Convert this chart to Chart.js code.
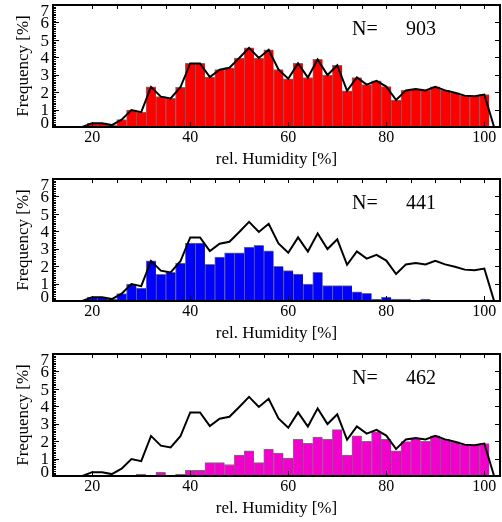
<!DOCTYPE html>
<html><head><meta charset="utf-8">
<script src="https://cdn.jsdelivr.net/npm/chart.js@4/dist/chart.umd.min.js"></script>
<style>
html,body{margin:0;padding:0;background:#fff;}
#wrap{position:relative;width:502px;height:522px;overflow:hidden;background:#fff;}
canvas{position:absolute;left:0;}
</style></head><body>
<div id="wrap">
<canvas id="c1" width="502" height="175" style="top:0px"></canvas>
<canvas id="c2" width="502" height="175" style="top:174px"></canvas>
<canvas id="c3" width="502" height="175" style="top:349px"></canvas>
</div>
<script>
// relative humidity bin centres [%]
const binCenters = [14,16,18,20,22,24,26,28,30,32,34,36,38,40,42,44,46,48,50,52,54,56,58,60,62,64,66,68,70,72,74,76,78,80,82,84,86,88,90,92,94,96,98,100,102];
// all cases (N=903), frequency [%]
const totalFreq = [0,0,0,0.22,0.22,0.11,0.42,0.97,0.85,2.30,1.74,1.64,2.28,3.65,3.65,2.87,3.29,3.40,3.96,4.54,3.96,4.43,3.30,2.77,3.65,2.84,3.88,2.98,3.54,2.08,2.84,2.43,2.65,2.32,1.55,2.10,2.18,2.10,2.30,2.10,1.96,1.80,1.77,1.86,0];
// subset N=441
const group1Freq = [0,0,0,0.22,0.22,0.11,0.42,0.97,0.74,2.30,1.53,1.64,2.17,3.32,3.32,2.10,2.52,2.76,2.76,3.10,3.20,2.88,1.99,1.74,1.55,0.97,1.64,0.88,0.88,0.88,0.53,0.44,0.11,0.22,0.11,0.11,0,0.11,0,0,0,0,0,0,0];
// subset N=462
const group2Freq = [0,0,0,0,0,0,0,0,0.11,0,0.21,0,0.11,0.33,0.33,0.77,0.77,0.66,1.20,1.44,0.77,1.55,1.31,1.03,2.10,1.87,2.24,2.10,2.66,1.20,2.31,1.99,2.54,2.10,1.44,1.97,2.16,1.99,2.30,2.10,1.96,1.80,1.77,1.86,0];
const xTickValues = [20,40,60,80,100];
const yTickValues = [0,1,2,3,4,5,6,7];
const panelCounts = [903,441,462];
const panelColors = ['#FF0000','#0000FF','#F200CC'];

const FONT = '"Liberation Serif", "Times New Roman", serif';
Chart.defaults.font.family = FONT;
Chart.defaults.color = '#000';

const framePlugin = {
  id: 'frame',
  afterDraw(chart, args, opts) {
    const {ctx, chartArea: a} = chart;
    const x = chart.scales.x, y = chart.scales.y;
    ctx.save();
    ctx.strokeStyle = '#000';
    ctx.lineWidth = 1;
    ctx.beginPath();
    for (let k = 0; k <= 70; k++) {
      const py = Math.round(y.getPixelForValue(k / 10)) + 0.5;
      const len = (k % 10 === 0) ? 6 : 3;
      ctx.moveTo(a.left, py); ctx.lineTo(a.left + len, py);
    }
    for (const v of yTickValues) {
      const py = Math.round(y.getPixelForValue(v)) + 0.5;
      ctx.moveTo(a.right, py); ctx.lineTo(a.right - 5, py);
    }
    for (let v = 20; v <= 100; v += 5) {
      const px = Math.round(x.getPixelForValue(v)) + 0.5;
      ctx.moveTo(px, a.top); ctx.lineTo(px, a.top + 4);
    }
    for (const v of xTickValues) {
      const px = Math.round(x.getPixelForValue(v)) + 0.5;
      ctx.moveTo(px, a.bottom); ctx.lineTo(px, a.bottom - 5);
    }
    ctx.stroke();
    ctx.lineWidth = 2;
    ctx.strokeRect(a.left, a.top, a.right - a.left, a.bottom - a.top);
    ctx.fillStyle = '#000';
    ctx.font = '20px ' + FONT;
    ctx.textBaseline = 'alphabetic';
    ctx.textAlign = 'left';
    ctx.fillText('N=', 352, a.top + 30);
    ctx.textAlign = 'right';
    ctx.fillText(String(opts.n), 436, a.top + 30);
    ctx.restore();
  }
};

function makeChart(id, barValues, color, n) {
  return new Chart(document.getElementById(id), {
    type: 'bar',
    data: {
      datasets: [
        {
          type: 'line',
          data: binCenters.map((c, i) => ({x: c, y: totalFreq[i]})),
          borderColor: '#000', borderWidth: 2, pointRadius: 0, tension: 0, fill: false, order: 0
        },
        {
          type: 'bar',
          data: binCenters.map((c, i) => ({x: c, y: barValues[i]})),
          backgroundColor: color,
          borderColor: 'rgba(0,0,0,0.55)',
          borderWidth: {top: 1, left: 1, right: 0, bottom: 0},
          borderSkipped: 'start',
          barPercentage: 1, categoryPercentage: 1, order: 1
        }
      ]
    },
    options: {
      responsive: false,
      animation: false,
      devicePixelRatio: 1,
      layout: {padding: {top: 5, right: 2, left: 0, bottom: 0}},
      plugins: {legend: {display: false}, tooltip: {enabled: false}, frame: {n: n}},
      scales: {
        x: {
          type: 'linear', min: 12, max: 103.2, offset: false,
          grid: {display: false, drawTicks: false}, border: {display: false},
          afterBuildTicks: s => { s.ticks = xTickValues.map(v => ({value: v})); },
          afterFit: s => { s.height = 48; s.paddingLeft = 0; s.paddingRight = 0; },
          ticks: {font: {size: 16}, color: '#000', padding: 1, maxRotation: 0, autoSkip: false,
                  callback: v => String(v)},
          title: {display: true, text: 'rel. Humidity [%]', color: '#000', font: {size: 17}, padding: {top: 0, bottom: 5}}
        },
        y: {
          type: 'linear', min: 0, max: 7,
          grid: {display: false, drawTicks: false}, border: {display: false},
          afterBuildTicks: s => { s.ticks = yTickValues.map(v => ({value: v})); },
          afterFit: s => { s.width = 53; s.paddingTop = 0; s.paddingBottom = 0; },
          ticks: {
            color: '#000', padding: 4, autoSkip: false,
            font: c => {
              const v = c.tick ? c.tick.value : 1;
              return {size: 17, lineHeight: v === 7 ? 0.75 : (v === 0 ? 0.45 : 0.15)};
            },
            callback: v => v === 0 ? ['0', ''] : ['', String(v)]
          },
          title: {display: true, text: 'Frequency [%]', color: '#000', font: {size: 17}, padding: {top: 13, bottom: 0}}
        }
      }
    },
    plugins: [framePlugin]
  });
}

makeChart('c1', totalFreq, panelColors[0], panelCounts[0]);
makeChart('c2', group1Freq, panelColors[1], panelCounts[1]);
makeChart('c3', group2Freq, panelColors[2], panelCounts[2]);
</script>
</body></html>
